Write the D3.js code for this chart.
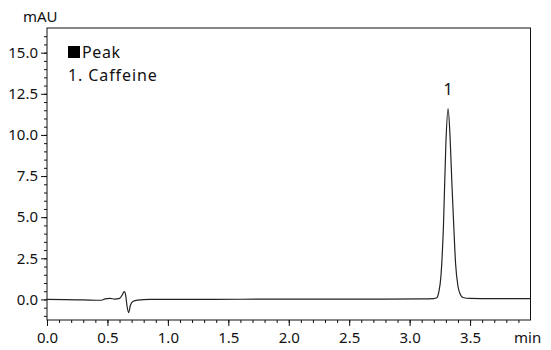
<!DOCTYPE html>
<html>
<head>
<meta charset="utf-8">
<script src="https://cdn.jsdelivr.net/npm/d3@7"></script>
<style>
  body { margin: 0; background: #fff; }
  svg text { font-family: "Noto Sans", sans-serif; fill: #111; }
</style>
</head>
<body>
<div id="chart"></div>
<script>
// trace (min, mAU)
var timeMin = [0, 0.15, 0.3, 0.45, 0.48, 0.52, 0.56, 0.6, 0.62, 0.64, 0.652, 0.662, 0.675, 0.69, 0.71, 0.75, 0.85,
    1.2, 1.6, 2.0, 2.4, 2.8, 3.1, 3.2, 3.225, 3.24, 3.26, 3.28, 3.30, 3.318, 3.335, 3.35, 3.365, 3.38, 3.40, 3.42, 3.44, 3.5, 3.7, 4.0];
var signalMAU = [0, -0.01, -0.03, -0.05, 0.03, 0.06, 0.02, 0.06, 0.25, 0.47, 0.2, -0.4, -0.8, -0.35, -0.12, -0.04, 0,
    0, 0.01, 0.02, 0.02, 0.02, 0.03, 0.05, 0.1, 0.4, 1.5, 4.5, 9.5, 11.6, 9.8, 7.0, 4.5, 2.2, 0.8, 0.3, 0.12, 0.06, 0.05, 0.05];

var peakNames = ["1. Caffeine"];
var peakNumbers = ["1"];
var peakTimes = [3.318];
var peakHeights = [11.6];

var xMajor = [0, 0.5, 1.0, 1.5, 2.0, 2.5, 3.0, 3.5];
var yMajor = [0, 2.5, 5.0, 7.5, 10.0, 12.5, 15.0];

var width = 551, height = 350;
var mLeft = 47, mRight = 530.5, mTop = 28, mBottom = 320;

var svg = d3.select("#chart").append("svg")
    .attr("width", width)
    .attr("height", height);

var x = d3.scaleLinear().domain([0, 4]).range([mLeft, mRight]);
var y = d3.scaleLinear().domain([-1.25, 16.5]).range([mBottom, mTop]);

var xMinor = d3.range(1, 40).map(function(i) { return i / 10; });
var yMinor = d3.range(-2, 33).map(function(i) { return i / 2; });

// minor ticks
svg.append("g")
    .attr("transform", "translate(0," + mBottom + ")")
    .call(d3.axisBottom(x).tickValues(xMinor).tickSize(3).tickFormat(""))
    .call(function(g) { g.select(".domain").remove(); });

svg.append("g")
    .attr("transform", "translate(" + mLeft + ",0)")
    .call(d3.axisLeft(y).tickValues(yMinor).tickSize(3).tickFormat(""))
    .call(function(g) { g.select(".domain").remove(); });

// major ticks + labels
var xAxis = svg.append("g")
    .attr("transform", "translate(0," + mBottom + ")")
    .call(d3.axisBottom(x).tickValues(xMajor).tickSize(6).tickPadding(6).tickFormat(d3.format(".1f")));
xAxis.select(".domain").remove();
xAxis.selectAll("text").attr("font-size", 15);

var yAxis = svg.append("g")
    .attr("transform", "translate(" + mLeft + ",0)")
    .call(d3.axisLeft(y).tickValues(yMajor).tickSize(6).tickPadding(3).tickFormat(d3.format(".1f")));
yAxis.select(".domain").remove();
yAxis.selectAll("text").attr("font-size", 15);

svg.selectAll(".tick line").attr("stroke", "#111");
svg.selectAll(".tick text").attr("font-family", "Noto Sans").attr("fill", "#222");

// frame
svg.append("rect")
    .attr("x", mLeft).attr("y", mTop)
    .attr("width", mRight - mLeft).attr("height", mBottom - mTop)
    .attr("fill", "none").attr("stroke", "#111").attr("stroke-width", 1);

// units
svg.append("text").attr("x", 23).attr("y", 22).attr("font-size", 15).text("mAU");
svg.append("text").attr("x", 514).attr("y", 343).attr("font-size", 15).text("min");

// trace
svg.append("defs").append("clipPath").attr("id", "plotclip")
    .append("rect").attr("x", mLeft).attr("y", mTop).attr("width", mRight - mLeft).attr("height", mBottom - mTop);

var line = d3.line()
    .x(function(d, i) { return x(timeMin[i]); })
    .y(function(d) { return y(d); })
    .curve(d3.curveMonotoneX);

svg.append("path")
    .datum(signalMAU)
    .attr("clip-path", "url(#plotclip)")
    .attr("d", line)
    .attr("fill", "none")
    .attr("stroke", "#222")
    .attr("stroke-width", 1.2);

// peak numbers
svg.selectAll(".peaknum")
    .data(peakNumbers)
    .enter().append("text")
    .attr("class", "peaknum")
    .attr("x", function(d, i) { return x(peakTimes[i]); })
    .attr("y", function(d, i) { return y(peakHeights[i]) - 14; })
    .attr("text-anchor", "middle")
    .attr("font-size", 16)
    .text(function(d) { return d; });

// legend
svg.append("rect").attr("x", 68).attr("y", 46).attr("width", 12).attr("height", 12).attr("fill", "#000");
svg.append("text").attr("x", 82).attr("y", 58).attr("font-size", 16).attr("letter-spacing", 0.6).text("Peak");
svg.selectAll(".legname")
    .data(peakNames)
    .enter().append("text")
    .attr("class", "legname")
    .attr("x", 68)
    .attr("y", function(d, i) { return 81 + i * 24; })
    .attr("font-size", 16)
    .attr("letter-spacing", 0.9)
    .text(function(d) { return d; });
</script>
</body>
</html>
